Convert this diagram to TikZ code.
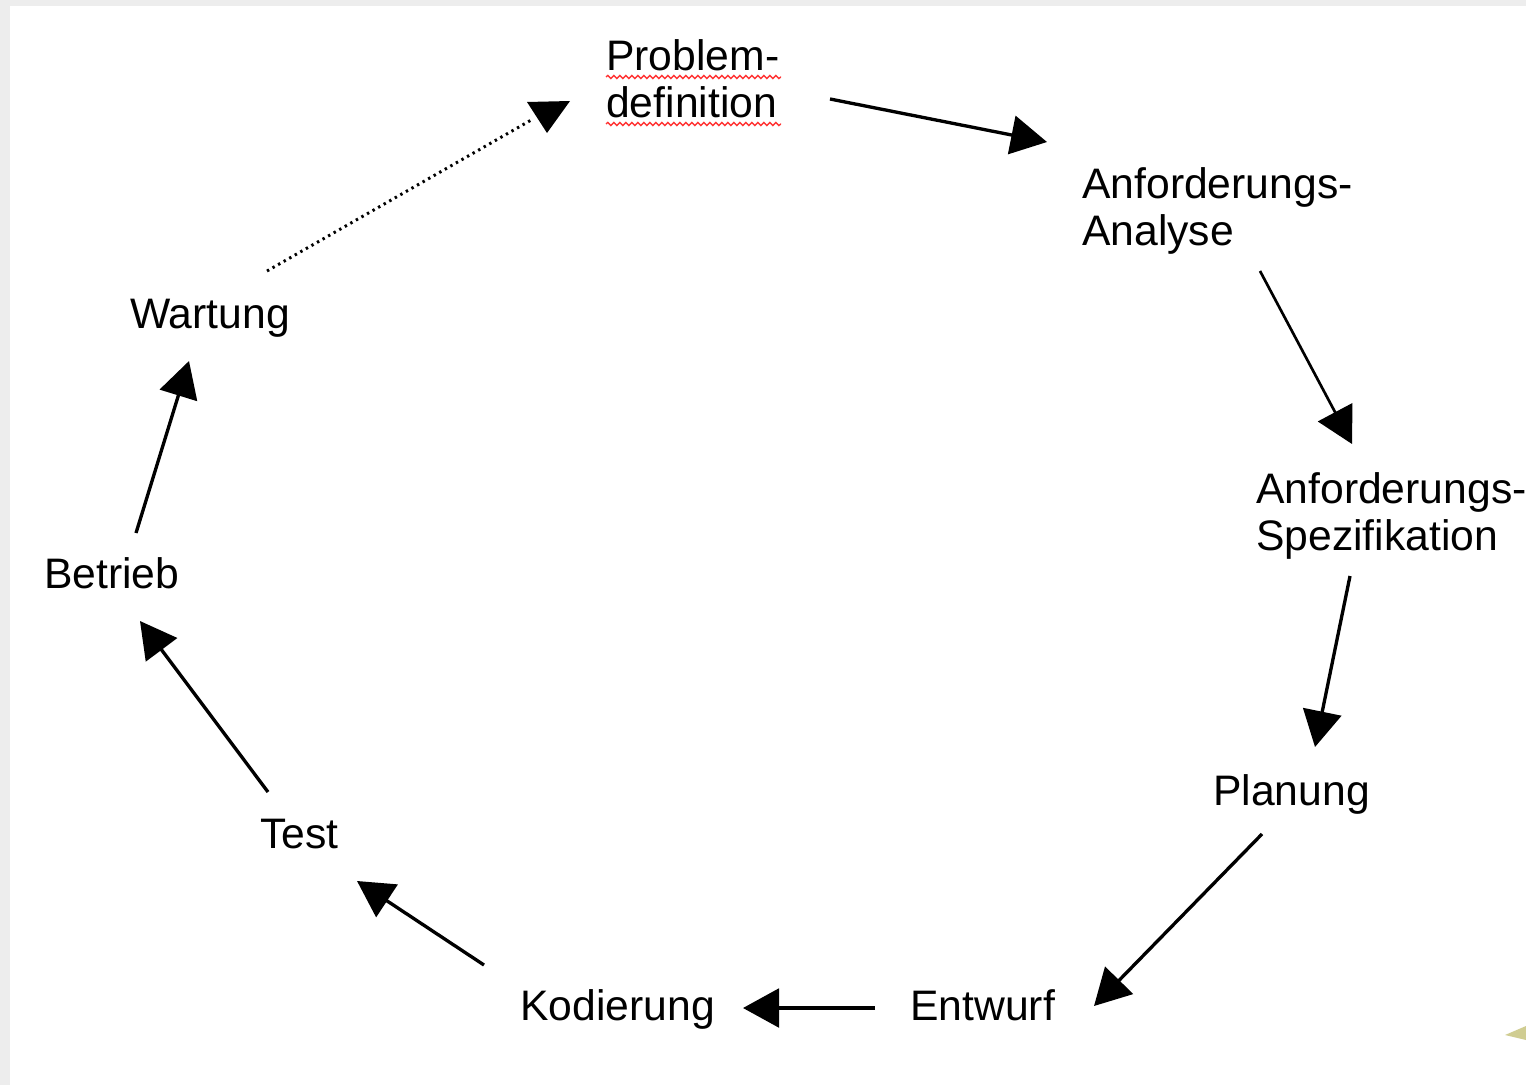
\documentclass[tikz,border=0pt]{standalone}
\usepackage{fontspec}
\setmainfont{Liberation Sans}
\usetikzlibrary{arrows.meta,decorations.pathmorphing}
\tikzset{
  lbl/.style={anchor=base west, inner sep=0pt, font=\fontsize{32}{35.25}\selectfont},
  flow/.style={line width=2.5pt, -{Triangle[length=27pt,width=29pt]}},
  wavy/.style={red!80, line width=1pt, decorate, decoration={snake, amplitude=1.2pt, segment length=4.5pt}}
}
\begin{document}
\begin{tikzpicture}[x=0.75pt,y=-0.75pt]
\useasboundingbox (0,0) rectangle (1526,1085);
\fill[gray!14] (0,0) rectangle (1526,1085);
\fill[white] (10,6) rectangle (1526,1085);
% small clipart fragment bottom right
\fill[olive!40!yellow!50!gray!60] (1505,1035) -- (1526,1026) -- (1526,1040) -- cycle;

% labels
\node[lbl] (prob) at (606,70) {\vtop{\hbox{Problem-}\hbox{definition}}};
\node[lbl] (anal) at (1082,198) {\vtop{\hbox{Anforderungs-}\hbox{Analyse}}};
\node[lbl] (spez) at (1256,503) {\vtop{\hbox{Anforderungs-}\hbox{Spezifikation}}};
\node[lbl] (plan) at (1213,805) {Planung};
\node[lbl] (entw) at (910,1020) {Entwurf};
\node[lbl] (kod) at (520,1020) {Kodierung};
\node[lbl] (test) at (260,848) {Test};
\node[lbl] (betr) at (44,588) {Betrieb};
\node[lbl] (wart) at (130,328) {Wartung};

% spell-check underlines
\draw[wavy] (606,77) -- (781,77);
\draw[wavy] (606,124) -- (781,124);

% connector end points
\coordinate (p1) at (830,99);   \coordinate (a1) at (1047,142);
\coordinate (p2) at (1260,271); \coordinate (a2) at (1352,444);
\coordinate (p3) at (1350,576); \coordinate (a3) at (1315,747);
\coordinate (p4) at (1262,834); \coordinate (a4) at (1094,1006);
\coordinate (p5) at (875,1008); \coordinate (a5) at (743,1008);
\coordinate (p6) at (484,965);  \coordinate (a6) at (357,881);
\coordinate (p7) at (268,792);  \coordinate (a7) at (140,621);
\coordinate (p8) at (136,533);  \coordinate (a8) at (189,361);
\coordinate (p9) at (267,271);  \coordinate (a9) at (533,119);

\draw[flow] (p1) -- (a1);
\draw[flow, line width=2pt] (p2) -- (a2);
\draw[flow] (p3) -- (a3);
\draw[flow] (p4) -- (a4);
\draw[flow] (p5) -- (a5);
\draw[flow] (p6) -- (a6);
\draw[flow] (p7) -- (a7);
\draw[flow] (p8) -- (a8);

% dotted return arrow
\draw[line width=2.2pt, dash pattern=on 1.8pt off 3pt] (p9) -- (a9);
\fill (527,102) -- (570,101) -- (547,133) -- cycle;
\end{tikzpicture}
\end{document}
